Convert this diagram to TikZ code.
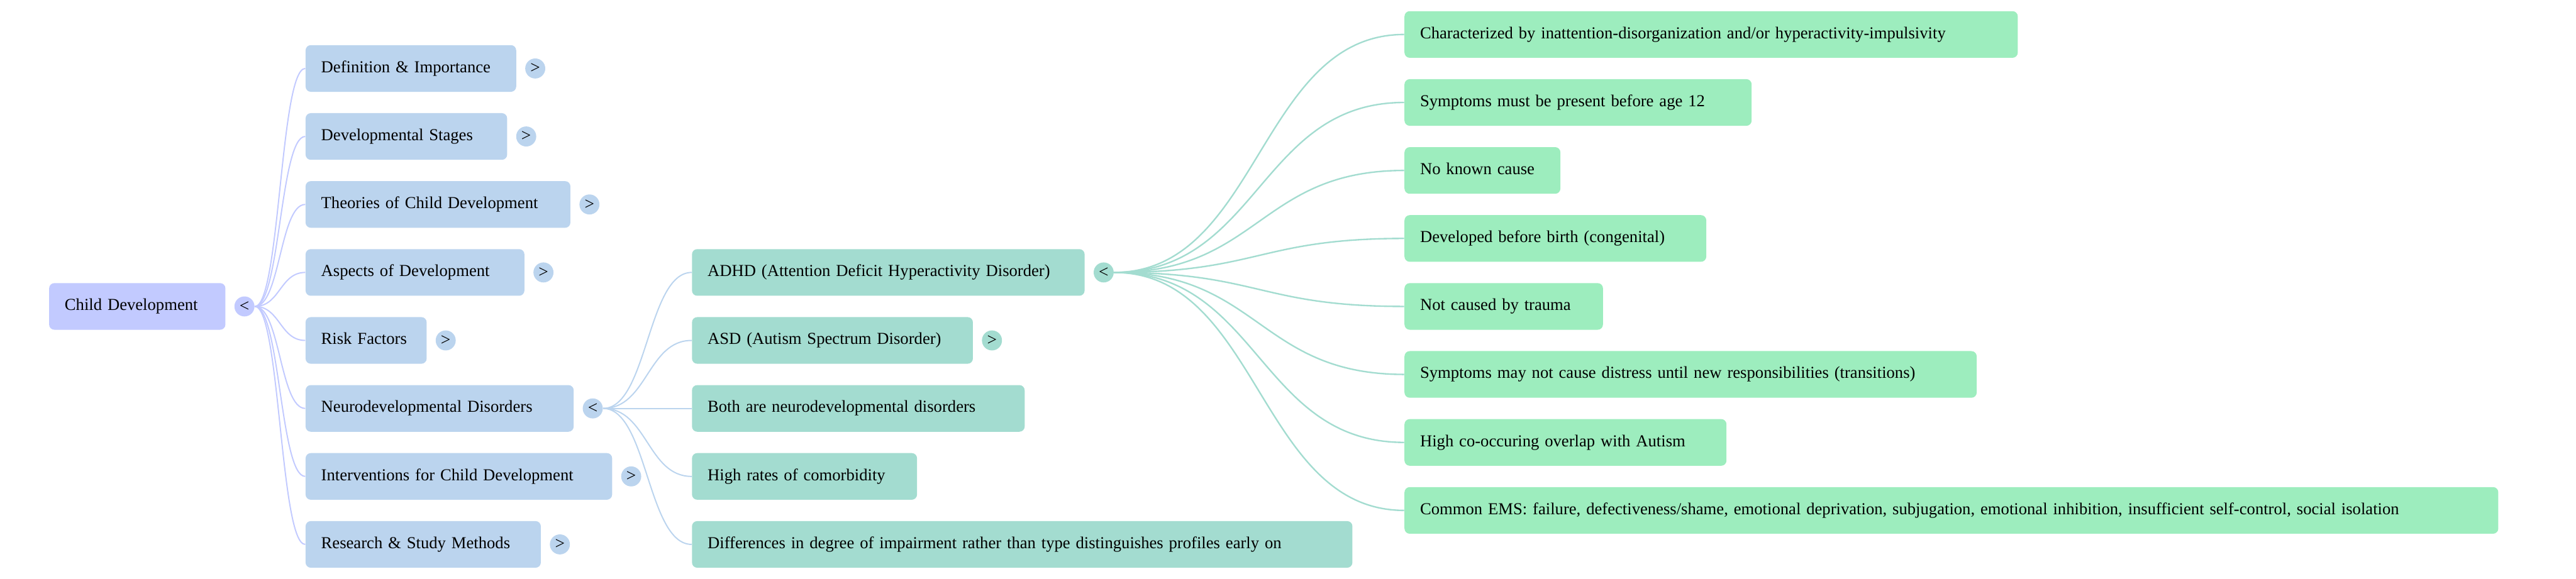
\documentclass[tikz,border=0pt]{standalone}
\usepackage{fontspec}
\setmainfont{Liberation Serif}
\usetikzlibrary{calc}
\definecolor{cRoot}{HTML}{C2CAFF}
\definecolor{cLone}{HTML}{BBD4EE}
\definecolor{cLtwo}{HTML}{A3DCD0}
\definecolor{cLthree}{HTML}{9DEDBE}
\tikzset{
  box/.style={rectangle, rounded corners=3.2pt, minimum height=28.4pt, inner xsep=9.5pt, inner ysep=0pt,
    anchor=west, align=left, font=\fontsize{10.2}{12}\selectfont, text=black,
    text height=8.4pt, text depth=3.6pt},
  rootbox/.style={box, fill=cRoot},
  lonebox/.style={box, fill=cLone},
  ltwobox/.style={box, fill=cLtwo},
  lthreebox/.style={box, fill=cLthree},
  tog/.style={circle, minimum size=12.2pt, inner sep=0pt, font=\fontsize{10.5}{12}\selectfont, text=black},
  rootline/.style={draw=cRoot, line width=0.75pt},
  loneline/.style={draw=cLone, line width=0.75pt},
  ltwoline/.style={draw=cLtwo, line width=0.9pt},
}
\newcommand{\linkto}[3]{\draw[#1] let \p1=(#2.east), \p2=(#3.west) in (\p1) .. controls ({0.5*\x1+0.5*\x2},\y1) and ({0.5*\x1+0.5*\x2},\y2) .. (\p2);}
\begin{document}
\begin{tikzpicture}
\useasboundingbox (0,0) rectangle (1568pt,-352.4pt);
% root
\node[rootbox, text width=88.3pt] (root) at (29.7pt,-186.6pt) {Child Development};
\node[tog, fill=cRoot] (t0) at ($(root.east)+(11.4pt,0)$) {<};
% level 1
\node[lonebox, text width=109.2pt] (a1) at (185.8pt,-41.7pt) {Definition \& Importance};
\node[lonebox, text width=103.7pt] (a2) at (185.8pt,-83.1pt) {Developmental Stages};
\node[lonebox, text width=142.2pt] (a3) at (185.8pt,-124.5pt) {Theories of Child Development};
\node[lonebox, text width=114.2pt] (a4) at (185.8pt,-165.9pt) {Aspects of Development};
\node[lonebox, text width=54.7pt] (a5) at (185.8pt,-207.3pt) {Risk Factors};
\node[lonebox, text width=144.2pt] (a6) at (185.8pt,-248.7pt) {Neurodevelopmental Disorders};
\node[lonebox, text width=167.6pt] (a7) at (185.8pt,-290.1pt) {Interventions for Child Development};
\node[lonebox, text width=124.2pt] (a8) at (185.8pt,-331.5pt) {Research \& Study Methods};
\node[tog, fill=cLone] (ta1) at ($(a1.east)+(11.4pt,0)$) {>};
\node[tog, fill=cLone] (ta2) at ($(a2.east)+(11.4pt,0)$) {>};
\node[tog, fill=cLone] (ta3) at ($(a3.east)+(11.4pt,0)$) {>};
\node[tog, fill=cLone] (ta4) at ($(a4.east)+(11.4pt,0)$) {>};
\node[tog, fill=cLone] (ta5) at ($(a5.east)+(11.4pt,0)$) {>};
\node[tog, fill=cLone] (ta6) at ($(a6.east)+(11.4pt,0)$) {<};
\node[tog, fill=cLone] (ta7) at ($(a7.east)+(11.4pt,0)$) {>};
\node[tog, fill=cLone] (ta8) at ($(a8.east)+(11.4pt,0)$) {>};
% level 2
\node[ltwobox, text width=220pt] (b1) at (421pt,-165.9pt) {ADHD (Attention Deficit Hyperactivity Disorder)};
\node[ltwobox, text width=152pt] (b2) at (421pt,-207.3pt) {ASD (Autism Spectrum Disorder)};
\node[ltwobox, text width=183.5pt] (b3) at (421pt,-248.7pt) {Both are neurodevelopmental disorders};
\node[ltwobox, text width=118pt] (b4) at (421pt,-290.1pt) {High rates of comorbidity};
\node[ltwobox, text width=383pt] (b5) at (421pt,-331.5pt) {Differences in degree of impairment rather than type distinguishes profiles early on};
\node[tog, fill=cLtwo] (tb1) at ($(b1.east)+(11.4pt,0)$) {<};
\node[tog, fill=cLtwo] (tb2) at ($(b2.east)+(11.4pt,0)$) {>};
% level 3
\node[lthreebox, text width=354.3pt] (c1) at (854.7pt,-21.0pt) {Characterized by inattention-disorganization and/or hyperactivity-impulsivity};
\node[lthreebox, text width=192.3pt] (c2) at (854.7pt,-62.4pt) {Symptoms must be present before age 12};
\node[lthreebox, text width=75.9pt] (c3) at (854.7pt,-103.8pt) {No known cause};
\node[lthreebox, text width=164.7pt] (c4) at (854.7pt,-145.2pt) {Developed before birth (congenital)};
\node[lthreebox, text width=101.8pt] (c5) at (854.7pt,-186.6pt) {Not caused by trauma};
\node[lthreebox, text width=329.3pt] (c6) at (854.7pt,-228.0pt) {Symptoms may not cause distress until new responsibilities (transitions)};
\node[lthreebox, text width=177pt] (c7) at (854.7pt,-269.4pt) {High co-occuring overlap with Autism};
\node[lthreebox, text width=646.8pt] (c8) at (854.7pt,-310.8pt) {Common EMS: failure, defectiveness/shame, emotional deprivation, subjugation, emotional inhibition, insufficient self-control, social isolation};
% connectors
\foreach \k in {a1,a2,a3,a4,a5,a6,a7,a8} {\linkto{rootline}{t0}{\k}}
\foreach \k in {b1,b2,b3,b4,b5} {\linkto{loneline}{ta6}{\k}}
\foreach \k in {c1,c2,c3,c4,c5,c6,c7,c8} {\linkto{ltwoline}{tb1}{\k}}
\end{tikzpicture}
\end{document}
